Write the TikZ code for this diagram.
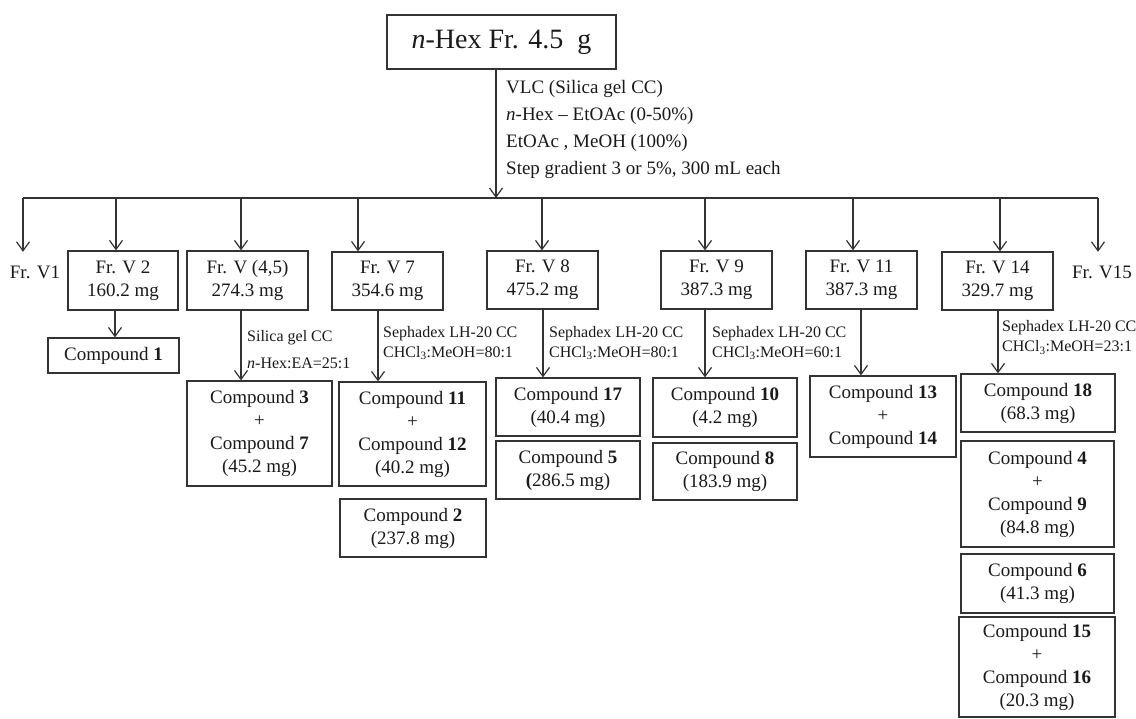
\documentclass[tikz,border=0pt]{standalone}
\usepackage{fontspec}
\setmainfont{Liberation Serif}
\usetikzlibrary{arrows.meta}
\definecolor{lncol}{HTML}{333333}
\definecolor{txcol}{HTML}{1A1A1A}
\tikzset{
  bx/.style={draw=lncol, line width=1.2pt, text=txcol, align=center, inner sep=0pt, font=\fontsize{19}{23}\selectfont},
  plaintext/.style={text=txcol, inner sep=0pt, font=\fontsize{19}{23}\selectfont},
  lbl/.style={text=txcol, inner sep=0pt, anchor=west, align=left, font=\fontsize{16}{20}\selectfont},
  arr/.style={draw=lncol, line width=1.2pt, -{Straight Barb[length=9pt,width=13pt,line width=1.2pt]}},
  hline/.style={draw=lncol, line width=1.2pt}
}
\begin{document}
\begin{tikzpicture}[x=1pt,y=-1pt]
\useasboundingbox[fill=white] (0,0) rectangle (1136,719);

% top
\node[bx, minimum width=229, minimum height=54, font=\fontsize{28}{32}\selectfont] (top) at (501.5,42) {\textit{n}-Hex Fr. 4.5\ \ g};
\coordinate (hm) at (496,198);
\coordinate (h1) at (23,198);
\coordinate (h2) at (116,198);
\coordinate (h45) at (241,198);
\coordinate (h7) at (358,198);
\coordinate (h8) at (542,198);
\coordinate (h9) at (705,198);
\coordinate (h11) at (853,198);
\coordinate (h14) at (1000,198);
\coordinate (h15) at (1098,198);
\draw[arr] (top.south -| hm) -- (hm);
\draw[hline] (h1) -- (h15);
\node[text=txcol, inner sep=0pt, anchor=west, align=left, font=\fontsize{19}{27}\selectfont] (vlc) at (506,129)
  {VLC (Silica gel CC)\\\textit{n}-Hex -- EtOAc (0-50\%)\\EtOAc , MeOH (100\%)\\Step gradient 3 or 5\%, 300 mL each};

% fractions
\node[plaintext, minimum height=40] (fr1) at (35,272) {Fr. V1};
\node[bx, minimum width=110, minimum height=59] (fr2) at (123,280.5) {Fr. V 2\\160.2 mg};
\node[bx, minimum width=121, minimum height=59] (fr45) at (247.5,280.5) {Fr. V (4,5)\\274.3 mg};
\node[bx, minimum width=111, minimum height=58] (fr7) at (387.5,281) {Fr. V 7\\354.6 mg};
\node[bx, minimum width=111, minimum height=58] (fr8) at (542.5,280) {Fr. V 8\\475.2 mg};
\node[bx, minimum width=111, minimum height=58] (fr9) at (716.5,280) {Fr. V 9\\387.3 mg};
\node[bx, minimum width=111, minimum height=58] (fr11) at (861.5,280) {Fr. V 11\\387.3 mg};
\node[bx, minimum width=111, minimum height=58] (fr14) at (997.5,281) {Fr. V 14\\329.7 mg};
\node[plaintext, minimum height=40] (fr15) at (1102,272) {Fr. V15};

\draw[arr] (h1) -- (h1 |- fr1.north);
\draw[arr] (h2) -- (h2 |- fr2.north);
\draw[arr] (h45) -- (h45 |- fr45.north);
\draw[arr] (h7) -- (h7 |- fr7.north);
\draw[arr] (h8) -- (h8 |- fr8.north);
\draw[arr] (h9) -- (h9 |- fr9.north);
\draw[arr] (h11) -- (h11 |- fr11.north);
\draw[arr] (h14) -- (h14 |- fr14.north);
\draw[arr] (h15) -- (h15 |- fr15.north);

% compounds
\node[bx, minimum width=131, minimum height=35] (c1) at (113.5,355.5) {Compound \textbf{1}};
\node[bx, minimum width=145, minimum height=105] (c37) at (259.5,433.5) {Compound \textbf{3}\\+\\Compound \textbf{7}\\(45.2 mg)};
\node[bx, minimum width=147, minimum height=104] (c1112) at (412.5,434) {Compound \textbf{11}\\+\\Compound \textbf{12}\\(40.2 mg)};
\node[bx, minimum width=146, minimum height=58] (c2) at (413,528) {Compound \textbf{2}\\(237.8 mg)};
\node[bx, minimum width=144, minimum height=58] (c17) at (568,407) {Compound \textbf{17}\\(40.4 mg)};
\node[bx, minimum width=144, minimum height=58] (c5) at (568,470) {Compound \textbf{5}\\\textbf{(}286.5 mg)};
\node[bx, minimum width=144, minimum height=59] (c10) at (725,407.5) {Compound \textbf{10}\\(4.2 mg)};
\node[bx, minimum width=144, minimum height=57] (c8) at (725,471.5) {Compound \textbf{8}\\(183.9 mg)};
\node[bx, minimum width=146, minimum height=81] (c1314) at (883,416.5) {Compound \textbf{13}\\+\\Compound \textbf{14}};
\node[bx, minimum width=154, minimum height=58] (c18) at (1038,403) {Compound \textbf{18}\\(68.3 mg)};
\node[bx, minimum width=153, minimum height=106] (c49) at (1037.5,494) {Compound \textbf{4}\\+\\Compound \textbf{9}\\(84.8 mg)};
\node[bx, minimum width=153, minimum height=59] (c6) at (1037.5,583.5) {Compound \textbf{6}\\(41.3 mg)};
\node[bx, minimum width=156, minimum height=100] (c1516) at (1037,667) {Compound \textbf{15}\\+\\Compound \textbf{16}\\(20.3 mg)};

% second-level arrows
\coordinate (x2) at (115,0);
\coordinate (x45) at (241,0);
\coordinate (x7) at (378,0);
\coordinate (x8) at (543,0);
\coordinate (x9) at (705,0);
\coordinate (x11) at (861,0);
\coordinate (x14) at (998,0);
\draw[arr] (fr2.south -| x2) -- (c1.north -| x2);
\draw[arr] (fr45.south -| x45) -- (c37.north -| x45);
\draw[arr] (fr7.south -| x7) -- (c1112.north -| x7);
\draw[arr] (fr8.south -| x8) -- (c17.north -| x8);
\draw[arr] (fr9.south -| x9) -- (c10.north -| x9);
\draw[arr] (fr11.south -| x11) -- (c1314.north -| x11);
\draw[arr] (fr14.south -| x14) -- (c18.north -| x14);

% labels
\node[lbl, font=\fontsize{16}{27}\selectfont] (l45) at (247,349.5) {Silica gel CC\\\textit{n}-Hex:EA=25:1};
\node[lbl] (l7) at (383,343) {Sephadex LH-20 CC\\CHCl\textsubscript{3}:MeOH=80:1};
\node[lbl] (l8) at (549,343) {Sephadex LH-20 CC\\CHCl\textsubscript{3}:MeOH=80:1};
\node[lbl] (l9) at (712,343) {Sephadex LH-20 CC\\CHCl\textsubscript{3}:MeOH=60:1};
\node[lbl] (l14) at (1002,337.5) {Sephadex LH-20 CC\\CHCl\textsubscript{3}:MeOH=23:1};
\end{tikzpicture}
\end{document}
